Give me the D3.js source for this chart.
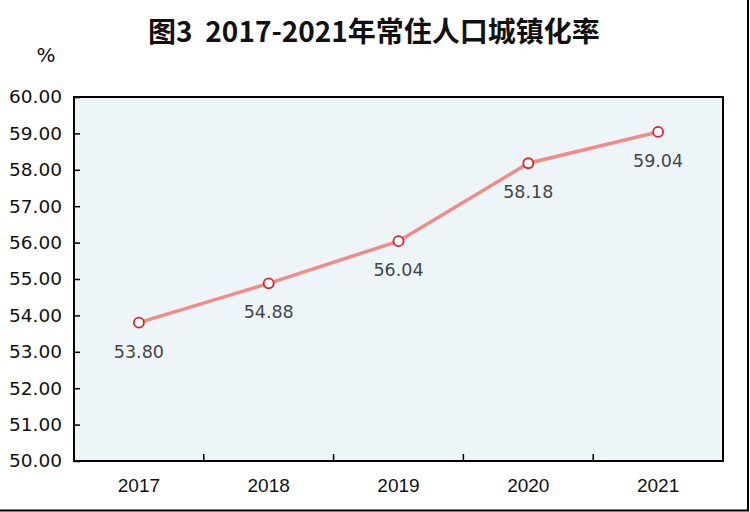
<!DOCTYPE html>
<html><head><meta charset="utf-8">
<script src="https://cdn.jsdelivr.net/npm/d3@7"></script>
<style>body{margin:0;background:#fff}svg{display:block}</style>
</head><body>
<svg id="c" width="750" height="512"></svg>
<script>
const years = ["2017","2018","2019","2020","2021"];
const rates = [53.80, 54.88, 56.04, 58.18, 59.04];
const yTicks = [50,51,52,53,54,55,56,57,58,59,60];
const title = "图3\u00a0\u00a02017-2021年常住人口城镇化率";

const svg = d3.select("#c");
const m = {l:74, r:723, t:97, b:461};
const x = d3.scaleBand().domain(years).range([m.l, m.r]);
const y = d3.scaleLinear().domain([50,60]).range([m.b, m.t]);

// outer frame (right & bottom)
svg.append("line").attr("x1",748).attr("x2",748).attr("y1",0).attr("y2",511).attr("stroke","#000").attr("stroke-width",2);
svg.append("line").attr("x1",0).attr("x2",749).attr("y1",510.5).attr("y2",510.5).attr("stroke","#000").attr("stroke-width",2);

svg.append("rect").attr("x",m.l).attr("y",m.t).attr("width",m.r-m.l).attr("height",m.b-m.t)
  .attr("fill","#eef5f9").attr("stroke","#000").attr("stroke-width",2);

svg.append("text").attr("x",374).attr("y",42).attr("text-anchor","middle")
  .attr("font-family","'Noto Sans CJK SC'").attr("font-weight","bold").attr("font-size",28)
  .attr("fill","#111").text(title);

svg.append("text").attr("x",46).attr("y",62).attr("text-anchor","middle")
  .attr("font-family","DejaVu Sans").attr("font-size",20).attr("fill","#111").text("%");

// y axis
const ya = svg.append("g").attr("transform",`translate(${m.l},0)`)
  .call(d3.axisLeft(y).tickValues(yTicks).tickFormat(d3.format(".2f")).tickSize(-6).tickPadding(12));
ya.select(".domain").remove();
ya.selectAll("line").attr("stroke","#000").attr("stroke-width",1.5);
ya.selectAll("text").attr("font-family","DejaVu Sans").attr("font-size",18.5).attr("fill","#111");

// x axis
const bounds = years.slice(1).map(d => x(d));
svg.append("g").selectAll("line").data(bounds).join("line")
  .attr("x1",d=>d).attr("x2",d=>d).attr("y1",m.b).attr("y2",m.b-7)
  .attr("stroke","#000").attr("stroke-width",1.5);
svg.append("g").selectAll("text").data(years).join("text")
  .attr("x",d=>x(d)+x.bandwidth()/2).attr("y",492).attr("text-anchor","middle")
  .attr("font-family","'Liberation Sans Narrow', 'Liberation Sans'").attr("font-size",19).attr("fill","#111")
  .text(d=>d);

const data = years.map((d,i)=>({year:d, v:rates[i]}));
const cx = d => x(d.year)+x.bandwidth()/2;
svg.append("path").datum(data)
  .attr("d", d3.line().x(cx).y(d=>y(d.v)))
  .attr("fill","none").attr("stroke","#f28a8a").attr("stroke-width",3.5);
svg.append("g").selectAll("circle").data(data).join("circle")
  .attr("cx",cx).attr("cy",d=>y(d.v)).attr("r",5)
  .attr("fill","#fff").attr("stroke","#e0202a").attr("stroke-width",1.8);
svg.append("g").selectAll("text").data(data).join("text")
  .attr("x",cx).attr("y",d=>y(d.v)+35).attr("text-anchor","middle")
  .attr("font-family","DejaVu Sans").attr("font-size",17.5).attr("fill","#454545")
  .text(d=>d.v.toFixed(2));
</script>
</body></html>
